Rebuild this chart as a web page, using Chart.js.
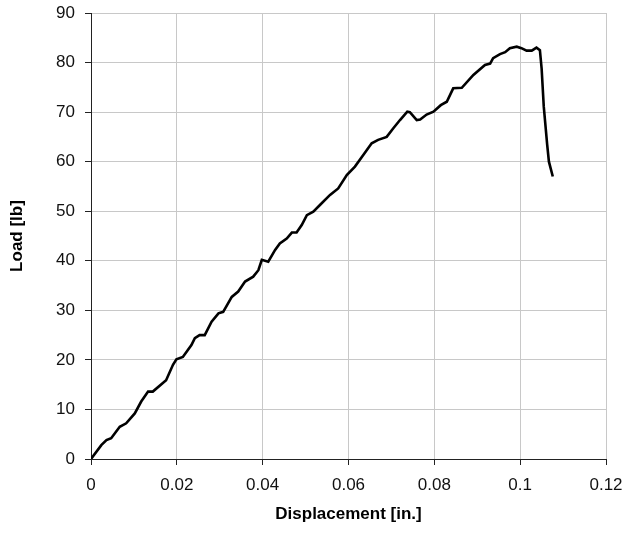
<!DOCTYPE html>
<html>
<head>
<meta charset="utf-8">
<script src="https://cdn.jsdelivr.net/npm/chart.js@4/dist/chart.umd.min.js"></script>
<style>
  html, body { margin: 0; padding: 0; background: #fff; }
  #wrap { width: 623px; height: 533px; }
</style>
</head>
<body>
<div id="wrap"><canvas id="chart" width="623" height="533"></canvas></div>
<script>
// displacement [in.]
const displacement = [
  0, 0.0024, 0.0036, 0.0047, 0.0067, 0.0082, 0.0102, 0.0117, 0.0133, 0.0144,
  0.0175, 0.0191, 0.0199, 0.0214, 0.0234, 0.0242, 0.0253, 0.0265, 0.0281, 0.0297,
  0.0308, 0.0328, 0.0343, 0.0359, 0.0378, 0.0390, 0.0398, 0.0413, 0.0429, 0.0440,
  0.0456, 0.0468, 0.0479, 0.0491, 0.0503, 0.0518, 0.0534, 0.0557, 0.0576, 0.0596,
  0.0615, 0.0634, 0.0654, 0.0669, 0.0689, 0.0704, 0.0720, 0.0737, 0.0743, 0.0759,
  0.0767, 0.0782, 0.0798, 0.0815, 0.0829, 0.0844, 0.0864, 0.0891, 0.0918, 0.0930,
  0.0937, 0.0953, 0.0965, 0.0976, 0.0992, 0.1003, 0.1015, 0.1027, 0.1038, 0.1046,
  0.1050, 0.1055, 0.1063, 0.1067, 0.1076,
];

// load [lb]
const load = [
  0, 2.8, 3.8, 4.2, 6.5, 7.2, 9.2, 11.6, 13.6, 13.6,
  15.9, 19.0, 20.1, 20.6, 23.0, 24.4, 25.0, 25.0, 27.7, 29.4,
  29.7, 32.7, 33.8, 35.8, 36.8, 38.1, 40.2, 39.8, 42.2, 43.5,
  44.5, 45.7, 45.7, 47.2, 49.2, 49.9, 51.3, 53.3, 54.6, 57.3,
  59.0, 61.3, 63.7, 64.4, 65.0, 66.7, 68.4, 70.1, 70.0, 68.4,
  68.5, 69.5, 70.1, 71.4, 72.1, 74.8, 74.9, 77.5, 79.5, 79.8,
  80.9, 81.7, 82.1, 82.9, 83.2, 82.9, 82.4, 82.4, 83.0, 82.5,
  78.8, 71.1, 63.4, 60.0, 57.0,
];

const xTickLabels = ['0', '0.02', '0.04', '0.06', '0.08', '0.1', '0.12'];
const yTickLabels = ['0', '10', '20', '30', '40', '50', '60', '70', '80', '90'];

const points = displacement.map((x, i) => ({ x: x, y: load[i] }));

const tickFont = { family: "'Liberation Sans', Arial, sans-serif", size: 17 };
const titleFont = { family: "'Liberation Sans', Arial, sans-serif", size: 17, weight: 'bold' };

new Chart(document.getElementById('chart'), {
  type: 'scatter',
  data: {
    datasets: [{
      data: points,
      showLine: true,
      borderColor: '#000',
      borderWidth: 2.6,
      pointRadius: 0,
      tension: 0,
    }],
  },
  options: {
    responsive: false,
    animation: false,
    layout: { padding: { top: 13, right: 17, bottom: 0, left: 0 } },
    plugins: { legend: { display: false }, tooltip: { enabled: false } },
    scales: {
      x: {
        type: 'linear',
        min: 0,
        max: 0.12,
        afterFit: (scale) => {
          scale.height = 74;
          scale.paddingLeft = 0;
          scale.paddingRight = 0;
        },
        ticks: {
          stepSize: 0.02,
          color: '#111',
          font: tickFont,
          padding: 10,
          maxRotation: 0,
          callback: (value, index) => xTickLabels[index],
        },
        grid: { color: '#c8c8c8', lineWidth: 1, tickColor: '#222', tickLength: 6 },
        border: { color: '#222', width: 1 },
        title: {
          display: true,
          text: 'Displacement [in.]',
          color: '#000',
          font: titleFont,
          padding: { top: 4, bottom: 8 },
        },
      },
      y: {
        min: 0,
        max: 90,
        afterFit: (scale) => {
          scale.width = 91;
          scale.paddingTop = 0;
          scale.paddingBottom = 0;
        },
        ticks: {
          stepSize: 10,
          color: '#111',
          font: tickFont,
          padding: 10,
          callback: (value, index) => yTickLabels[index],
        },
        grid: { color: '#c8c8c8', lineWidth: 1, tickColor: '#222', tickLength: 6 },
        border: { color: '#222', width: 1 },
        title: {
          display: true,
          text: 'Load [lb]',
          color: '#000',
          font: titleFont,
          padding: { top: 7, bottom: 4 },
        },
      },
    },
  },
});
</script>
</body>
</html>
